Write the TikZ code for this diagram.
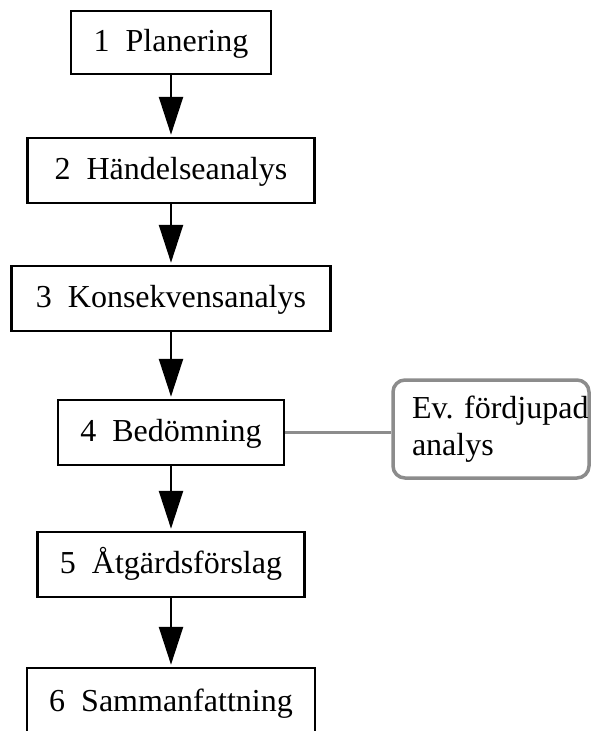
\documentclass[tikz,border=0pt]{standalone}
\usepackage{fontspec}
\setmainfont{Liberation Serif}
\usetikzlibrary{arrows.meta}
\definecolor{evgray}{RGB}{140,140,140}
\frenchspacing
\tikzset{
  stepbox/.style={draw=black, line width=2.5pt, inner sep=0pt, minimum height=65pt,
    text height=23pt, text depth=6pt, font=\fontsize{32pt}{37pt}\selectfont},
  flowarrow/.style={line width=2.5pt, shorten >=2pt,
    -{Triangle[width=24pt,length=38pt]}},
  evbox/.style={draw=evgray, line width=3.5pt, rounded corners=12pt, align=left,
    text width=158pt, inner xsep=19pt, minimum height=98pt,
    font=\fontsize{32pt}{37pt}\selectfont},
  evline/.style={draw=evgray, line width=3.5pt}
}
\begin{document}
\begin{tikzpicture}[x=1pt,y=-1pt]
\clip (0,0) rectangle (591,731);
\fill[white] (0,0) rectangle (591,731);
\node[stepbox, minimum width=200pt, minimum height=63pt] (s1) at (171,42.5) {1\ \ Planering};
\node[stepbox, minimum width=287pt] (s2) at (171,170.5) {2\ \ Händelseanalys};
\node[stepbox, minimum width=319pt] (s3) at (171,298.5) {3\ \ Konsekvensanalys};
\node[stepbox, minimum width=226pt] (s4) at (171,432.5) {4\ \ Bedömning};
\node[stepbox, minimum width=267pt] (s5) at (171,564.5) {5\ \ Åtgärdsförslag};
\node[stepbox, minimum width=288pt, minimum height=70pt, text height=20pt, text depth=4pt] (s6) at (171,703) {6\ \ Sammanfattning};
\node[evbox, minimum width=196pt] (ev) at (491,429) {\mbox{Ev.\ fördjupad}\\\mbox{analys}};
\draw[flowarrow] (s1.south) -- (s2.north);
\draw[flowarrow] (s2.south) -- (s3.north);
\draw[flowarrow] (s3.south) -- (s4.north);
\draw[flowarrow] (s4.south) -- (s5.north);
\draw[flowarrow] (s5.south) -- (s6.north);
\draw[evline] (s4.east) -- (ev.west |- s4.east);
\end{tikzpicture}
\end{document}
